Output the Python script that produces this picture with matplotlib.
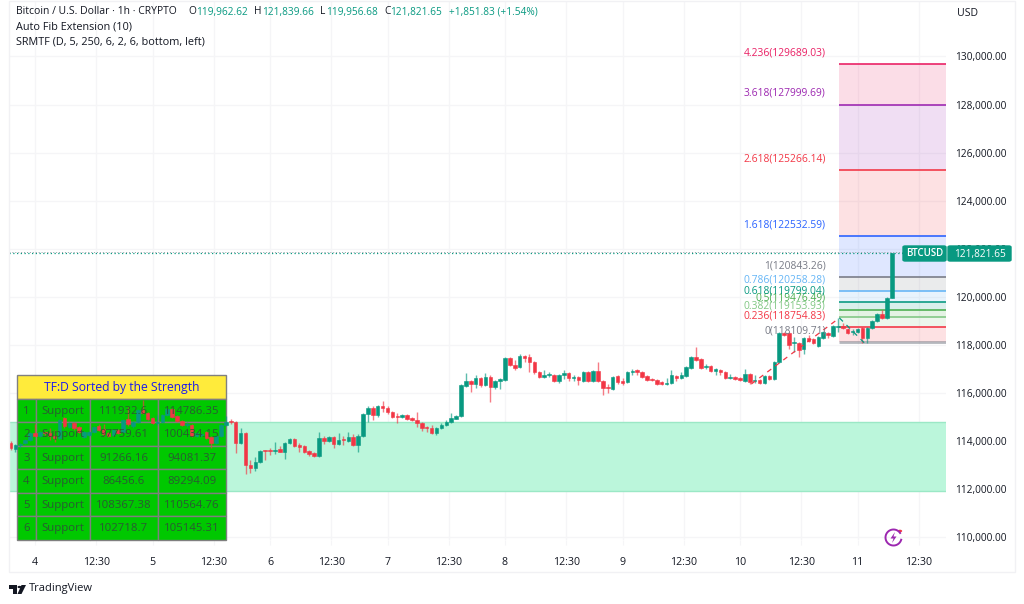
import numpy as np
import matplotlib
matplotlib.use("Agg")
import matplotlib.pyplot as plt
from matplotlib.patches import Rectangle, Polygon, Circle, FancyBboxPatch

W, H = 1024, 604
FONT = "Open Sans"
plt.rcParams['font.family'] = [FONT, 'DejaVu Sans']

opens = [113930,113680,113850,113930,114050,114340,114220,114390,114340,114220,
114140,114970,114590,114760,114590,114180,114260,114390,114640,114510,
114340,114260,114470,114390,114930,114640,114800,115300,115180,114970,
114760,114800,115090,115340,115050,114840,114680,114680,114220,114260,
114390,114180,113930,114220,114680,114840,114800,113930,114340,113010,
112890,113140,113640,113640,113600,113680,113560,113930,114100,113850,
113800,113600,113510,113390,114140,114010,114180,113890,114100,114010,
114180,113850,114220,115130,115380,115090,115470,115380,115220,115050,
115010,115090,114970,114890,114760,114590,114550,114340,114550,114680,
114800,114930,115050,116300,116510,116380,116630,116340,116670,116260,
116510,116550,117460,117170,117090,117550,117510,117300,116880,116670,
116760,116760,116510,116760,116840,116630,116670,116510,116880,116510,
116920,116510,116260,116180,116710,116510,116470,116880,116960,116880,
116710,116590,116550,116470,116380,116420,116710,116630,116710,117050,
117510,117420,117090,117130,116920,116960,116880,116630,116670,116630,
116510,116800,116510,116550,116420,116710,116590,117300,118500,118500,
118090,118090,117840,118290,118250,117960,118290,118500,118380,118750,
118790,118670,118540,118540,118710,118290,118710,119000,119290,119130,119962.62]
highs = [114010,113890,113930,114100,114390,114720,114430,114430,114550,114470,
114930,115010,114800,114800,114640,114430,114430,114640,114720,114720,
114390,114510,114510,114930,115430,114840,115340,115720,115220,115010,
115090,115130,115380,115380,115090,114890,114800,114720,114390,114340,
114430,114220,114260,114720,115050,114930,114840,114550,114390,113220,
113340,113640,113640,113720,113970,113800,113970,114140,114140,113930,
113850,113640,113560,114390,114220,114220,114220,114340,114220,114390,
114300,114300,115180,115470,115470,115510,115670,115470,115260,115180,
115130,115130,115010,115220,114800,114640,114680,114590,114760,114890,
115180,115090,116380,116840,116550,116760,116670,116840,116760,116550,
116630,117510,117510,117380,117630,117590,117630,117340,116920,116960,
116880,116800,116800,116960,116880,116760,116710,116920,116920,116960,
117300,116550,116380,116710,116760,116630,116920,117000,117000,116920,
116760,116630,116590,116510,116630,116960,116760,116880,117130,117550,
117920,117460,117210,117170,117050,117000,116920,116800,116710,116670,
117000,116840,116760,116590,116760,116760,117340,118540,118540,118540,
118330,118130,118340,118420,118290,118380,118590,118540,118830,119130,
118920,118710,118670,118710,118750,118750,119040,119330,119460,120000,121839.66]
lows = [113640,113560,113720,113890,114010,114220,114180,114260,114050,113970,
114100,114550,114550,114470,114340,114140,114220,114340,114430,114220,
114180,114220,114300,114340,114640,114550,114760,115130,114890,114720,
114680,114760,115050,114970,114800,114640,114590,114180,114180,114180,
114100,113720,113890,114180,114640,114720,113510,113890,112640,112680,
112770,113100,113220,113430,113470,113560,113260,113890,113760,113560,
113510,113390,113340,113340,113890,113970,113720,113850,113850,113970,
113800,113560,114180,114800,114890,115010,115220,115130,114970,114760,
114970,114890,114840,114590,114430,114390,114300,114260,114510,114640,
114760,114930,115010,116260,116050,116220,116260,116300,115630,116180,
116180,116510,117130,116960,117050,117300,116880,116800,116630,116630,
116670,116470,116420,116590,116510,116510,116340,116470,116470,116470,
116470,115930,116010,116140,116380,116340,116420,116760,116760,116630,
116510,116510,116340,116340,116340,116380,116510,116590,116670,117010,
117340,117010,117010,116880,116760,116760,116590,116590,116550,116510,
116470,116380,116420,116380,116380,116550,116550,117260,118380,117840,
117710,117510,117630,118130,118050,117920,118250,118290,118340,118540,
118670,118460,118420,118500,118090,118090,118670,118960,119090,119090,119956.68]
closes = [113720,113850,113890,114050,114340,114220,114390,114340,114220,114140,
114890,114640,114760,114550,114390,114390,114390,114590,114470,114300,
114220,114470,114340,114890,114720,114800,115300,115180,114930,114760,
114800,115090,115340,115010,114840,114680,114720,114220,114340,114300,
114140,113930,114220,114680,114800,114800,113930,114340,113010,112890,
113140,113600,113600,113600,113640,113560,113930,114100,113800,113760,
113560,113470,113390,114140,114010,114180,113890,114050,114050,114180,
113850,114220,115130,115380,115090,115470,115380,115220,115010,115010,
115090,114930,114890,114760,114550,114550,114340,114550,114680,114800,
114970,115050,116340,116510,116380,116630,116340,116670,116260,116510,
116590,117460,117170,117050,117550,117460,117300,116880,116670,116760,
116800,116510,116760,116840,116630,116670,116550,116880,116510,116920,
116510,116220,116220,116670,116470,116420,116880,116920,116880,116670,
116550,116550,116380,116380,116420,116760,116630,116760,117090,117510,
117380,117050,117130,116920,117000,116880,116630,116670,116590,116550,
116800,116470,116550,116420,116710,116590,117300,118500,118420,118000,
118130,117800,118290,118170,118090,118340,118540,118420,118790,118790,
118710,118500,118590,118670,118290,118710,119000,119290,119130,119960,121821.65]

first_hour = -5
last_price = 121821.65
zone_low, zone_high = 111932.6, 114786.35

fib_ratios = ["0", "0.236", "0.382", "0.5", "0.618", "0.786", "1", "1.618", "2.618", "3.618", "4.236"]
fib_prices = [118109.71, 118754.83, 119153.93, 119476.49, 119799.04, 120258.28, 120843.26,
              122532.59, 125266.14, 127999.69, 129689.03]
fib_colors = ["#787b86", "#f23645", "#81c784", "#4caf50", "#089981", "#64b5f6", "#787b86",
              "#2962ff", "#f23645", "#9c27b0", "#e91e63"]
fib_start_hour = 164.3

zig_up_hours = [146.3, 164.3]
zig_up_prices = [116380, 119130]
zig_dn_hours = [164.3, 169.4]
zig_dn_prices = [119130, 118090]

price_ticks = list(range(110000, 130001, 2000))
day_labels = ["4", "12:30", "5", "12:30", "6", "12:30", "7", "12:30", "8", "12:30", "9", "12:30", "10", "12:30", "11", "12:30"]
day_hours = [0, 12, 24, 36, 48, 60, 72, 84, 96, 108, 120, 132, 144, 156, 168, 180]

table_title = "TF:D Sorted by the Strength"
table_idx = ["1", "2", "3", "4", "5", "6"]
table_kind = ["Support"] * 6
table_low = ["111932.6", "97759.61", "91266.16", "86456.6", "108367.38", "102718.7"]
table_high = ["114786.35", "100434.15", "94081.37", "89294.09", "110564.76", "105145.31"]

GREEN, RED = "#089981", "#f23645"
TXT = "#131722"
GRID = "#f5f5f7"
NUM = 7.3


def fx(x):
    return x / W


def fy(y):
    return 1 - y / H


fig = plt.figure(figsize=(W / 100, H / 100), dpi=100, facecolor="white")
L, R, T, B = 9, 946, 2, 540
ax = fig.add_axes([fx(L), fy(B), (R - L) / W, (B - T) / H])
ax.set_facecolor("white")
# price = a - b*y, hours = (x-35)/4.896 in pixel terms of the reference
ax.set_ylim(132349 - 41.58 * B, 132349 - 41.58 * T)
ax.set_xlim((L - 35) / 4.896, (R - 35) / 4.896)
for s in ax.spines.values():
    s.set_visible(False)

ax.yaxis.tick_right()
ax.set_yticks(price_ticks)
ax.set_yticklabels([f"{p:,.2f}" for p in price_ticks], fontsize=NUM, color=TXT)
ax.set_xticks([h + 0.5 if l == "12:30" else h for h, l in zip(day_hours, day_labels)])
ax.set_xticklabels(day_labels, fontsize=7.7, color=TXT)
ax.tick_params(axis="y", length=0, pad=6.3)
ax.tick_params(axis="x", length=3.5, color=GRID, pad=8.5)
ax.grid(True, color=GRID, lw=1)
ax.set_axisbelow(True)

# support/resistance zone
ax.axhspan(zone_low, zone_high, color="#bbf6db", lw=0, zorder=1)
ax.axhline(zone_high, color="#9be8c6", lw=1, zorder=1.1)
ax.axhline(zone_low, color="#9be8c6", lw=1, zorder=1.1)

# fib bands
x1 = ax.get_xlim()[1]
for i in range(len(fib_prices)):
    if i > 0:
        ax.fill_between([fib_start_hour, x1], fib_prices[i - 1], fib_prices[i],
                        color=fib_colors[i], alpha=0.15, lw=0, zorder=1.5)
    ax.plot([fib_start_hour, x1], [fib_prices[i]] * 2, color=fib_colors[i],
            lw=1.3 if i else 2, alpha=0.9 if i else 0.55, zorder=2, solid_capstyle="butt")

# table
cols = [17, 35.5, 90, 157.5, 226]
rows_top, head_h, row_h = 375, 23.5, 23.5
def rect(x0, y0, x1_, y1_, **kw):
    ax.add_patch(Rectangle((fx(x0), fy(y1_)), (x1_ - x0) / W, (y1_ - y0) / H,
                           transform=fig.transFigure, clip_on=False, **kw))
rect(cols[0], rows_top, cols[-1], rows_top + head_h, facecolor="#ffeb3b", edgecolor="#808080", lw=1, zorder=3)
for r in range(6):
    y0 = rows_top + head_h + r * row_h
    for c_ in range(4):
        rect(cols[c_], y0, cols[c_ + 1], y0 + row_h, facecolor="#00c800", edgecolor="#7f7f7f", lw=1, zorder=3)

# candles
hours = np.arange(first_hour, first_hour + len(closes))
o, h, l, c = map(np.array, (opens, highs, lows, closes))
colors = np.where(c >= o, GREEN, RED)
ax.vlines(hours, l, h, colors=colors, lw=1, alpha=0.65, zorder=4)
ax.bar(hours, np.abs(c - o), bottom=np.minimum(o, c), width=0.72, color=colors,
       edgecolor=colors, lw=0.4, zorder=5)

# zigzag of the fib tool
ax.plot(zig_up_hours, zig_up_prices, color=RED, lw=0.9, ls=(0, (4, 4)), zorder=5)
ax.plot(zig_dn_hours, zig_dn_prices, color=GREEN, lw=0.9, ls=(0, (4, 4)), zorder=5)

# text placed by reference pixel
def ftext(x, y, s, **kw):
    kw.setdefault("zorder", 6)
    kw.setdefault("va", "center")
    kw.setdefault("clip_on", False)
    return ax.text(fx(x), fy(y + 1), s, transform=fig.transFigure, **kw)

ftext((cols[0] + cols[-1]) / 2, rows_top + head_h / 2, table_title, color="#1a1aee", fontsize=8.7, ha="center")
for r in range(6):
    yc = rows_top + head_h + (r + 0.5) * row_h
    for cidx, val in enumerate((table_idx[r], table_kind[r], table_low[r], table_high[r])):
        ftext((cols[cidx] + cols[cidx + 1]) / 2, yc, val, color="#2a5a33", fontsize=8.2, ha="center")

# fib labels
for ratio, price, col in zip(fib_ratios, fib_prices, fib_colors):
    ax.annotate(f"{ratio}({price})", xy=(fib_start_hour, price), xytext=(-10, 8.0),
                textcoords="offset points", color=col, fontsize=NUM + 0.1, ha="right", va="center", zorder=7)

# last price line
ax.axhline(last_price, color=GREEN, lw=0.9, ls=(0, (1, 2)), zorder=3)
ax.axhline(last_price + 40, color="#9aa0a6", lw=0.7, ls=(0, (1, 2)), zorder=3)

# price tag
ax.add_patch(FancyBboxPatch((fx(903), fy(261)), 43 / W, 15 / H, boxstyle="round,pad=0,rounding_size=0.002",
                            transform=fig.transFigure, facecolor=GREEN, edgecolor=GREEN, clip_on=False, zorder=10))
ax.add_patch(FancyBboxPatch((fx(948), fy(261)), 63 / W, 15 / H, boxstyle="round,pad=0,rounding_size=0.002",
                            transform=fig.transFigure, facecolor=GREEN, edgecolor=GREEN, clip_on=False, zorder=10))
ftext(924.5, 253, "BTCUSD", color="white", fontsize=7.0, ha="center", zorder=11, fontweight="semibold")
ftext(979.5, 253, f"{last_price:,.2f}", color="white", fontsize=NUM, ha="center", zorder=11)

# header
ftext(16, 11, "Bitcoin / U.S. Dollar · 1h · CRYPTO", color=TXT, fontsize=7.5)
for x, s, col in [(188, "O", TXT), (196, "119,962.62", GREEN), (254, "H", TXT), (262, "121,839.66", GREEN),
                  (320, "L", TXT), (326, "119,956.68", GREEN), (384, "C", TXT), (390.5, "121,821.65", GREEN),
                  (449, "+1,851.83 (+1.54%)", GREEN)]:
    ftext(x, 11, s, color=col, fontsize=NUM)
ftext(16, 26, "Auto Fib Extension (10)", color=TXT, fontsize=7.8)
ftext(16, 41, "SRMTF (D, 5, 250, 6, 2, 6, bottom, left)", color=TXT, fontsize=7.8)
ftext(957, 12, "USD", color=TXT, fontsize=7.6)

# outer frame
fig.add_artist(Rectangle((fx(8.5), fy(572)), (1015 - 8.5) / W, (572 - 1) / H, transform=fig.transFigure,
                         fill=False, edgecolor="#f1f1f4", lw=1))

# TradingView logo
logo = "#131722"
fig.add_artist(Polygon([(fx(9), fy(585)), (fx(17), fy(585)), (fx(17), fy(594)), (fx(13), fy(594)),
                        (fx(13), fy(589)), (fx(9), fy(589))], closed=True, transform=fig.transFigure,
                       facecolor=logo, edgecolor="none"))
fig.add_artist(Circle((fx(19.5), fy(587)), 2 / W, transform=fig.transFigure, facecolor=logo, edgecolor="none"))
fig.add_artist(Polygon([(fx(21.5), fy(585)), (fx(26), fy(585)), (fx(21.5), fy(594)), (fx(17.5), fy(594))],
                       closed=True, transform=fig.transFigure, facecolor=logo, edgecolor="none"))
fig.text(fx(29), fy(589), "TradingView", color=logo, fontsize=8.0, va="center")

# small icon near the bottom of the chart
fig.add_artist(plt.Line2D(
    fx(893.5) + (8 / W) * np.cos(np.linspace(0.6, 6.0, 60)),
    fy(537.5) + (8 / H) * np.sin(np.linspace(0.6, 6.0, 60)),
    transform=fig.transFigure, color="#9c27b0", lw=1.4))
fig.add_artist(Polygon([(fx(895), fy(532)), (fx(890.5), fy(538.5)), (fx(893.5), fy(538.5)), (fx(892), fy(543)),
                        (fx(896.5), fy(536.5)), (fx(893.5), fy(536.5))],
                       closed=True, transform=fig.transFigure, facecolor="#9c27b0", edgecolor="none"))
fig.add_artist(Circle((fx(900), fy(531)), 2.2 / W, transform=fig.transFigure, facecolor="#f23645", edgecolor="none"))

fig.savefig("out.png", dpi=100, facecolor="white")
